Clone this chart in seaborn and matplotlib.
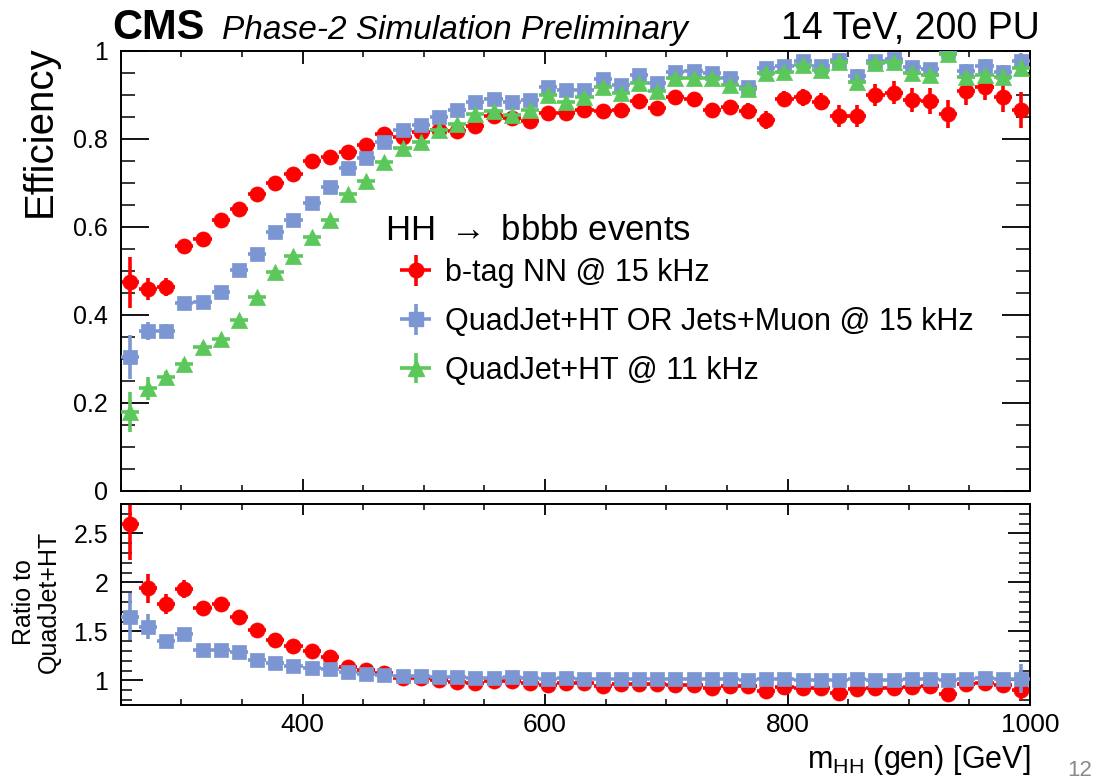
import matplotlib
matplotlib.use("Agg")
import matplotlib.pyplot as plt
import seaborn as sns
import pandas as pd
from matplotlib.lines import Line2D
from matplotlib.ticker import FixedLocator, MultipleLocator, FormatStrFormatter
from matplotlib.legend_handler import HandlerTuple

# ---------------- data ----------------
mhh = [257.5, 272.5, 287.5, 302.5, 317.5, 332.5, 347.5, 362.5, 377.5, 392.5,
       407.5, 422.5, 437.5, 452.5, 467.5, 482.5, 497.5, 512.5, 527.5, 542.5,
       557.5, 572.5, 587.5, 602.5, 617.5, 632.5, 647.5, 662.5, 677.5, 692.5,
       707.5, 722.5, 737.5, 752.5, 767.5, 782.5, 797.5, 812.5, 827.5, 842.5,
       857.5, 872.5, 887.5, 902.5, 917.5, 932.5, 947.5, 962.5, 977.5, 992.5]
half_bin = 7.5

eff_btag = [0.474, 0.459, 0.464, 0.557, 0.572, 0.617, 0.642, 0.674, 0.699, 0.720,
            0.751, 0.760, 0.770, 0.786, 0.811, 0.805, 0.815, 0.820, 0.819, 0.830,
            0.852, 0.847, 0.842, 0.858, 0.858, 0.867, 0.864, 0.867, 0.886, 0.870,
            0.896, 0.892, 0.866, 0.873, 0.864, 0.843, 0.892, 0.895, 0.885, 0.852,
            0.852, 0.900, 0.905, 0.889, 0.887, 0.857, 0.908, 0.919, 0.895, 0.866]
err_btag = [0.057, 0.025, 0.020, 0.012, 0.012, 0.010, 0.010, 0.010, 0.009, 0.009,
            0.009, 0.009, 0.009, 0.009, 0.009, 0.009, 0.009, 0.010, 0.010, 0.010,
            0.010, 0.011, 0.011, 0.011, 0.012, 0.012, 0.012, 0.013, 0.013, 0.014,
            0.014, 0.015, 0.016, 0.016, 0.017, 0.020, 0.018, 0.019, 0.020, 0.025,
            0.025, 0.026, 0.026, 0.027, 0.030, 0.032, 0.030, 0.030, 0.033, 0.040]

eff_or = [0.304, 0.364, 0.364, 0.427, 0.430, 0.453, 0.502, 0.539, 0.588, 0.617,
          0.655, 0.690, 0.733, 0.756, 0.794, 0.821, 0.832, 0.851, 0.866, 0.885,
          0.890, 0.885, 0.889, 0.919, 0.911, 0.911, 0.936, 0.923, 0.945, 0.928,
          0.953, 0.955, 0.949, 0.938, 0.919, 0.961, 0.966, 0.977, 0.966, 0.980,
          0.943, 0.978, 0.981, 0.964, 0.958, 1.000, 0.955, 0.966, 0.953, 0.978]
err_or = [0.050, 0.020, 0.015, 0.010, 0.009, 0.008, 0.008, 0.008, 0.008, 0.008,
          0.008, 0.008, 0.008, 0.008, 0.008, 0.008, 0.008, 0.008, 0.008, 0.008,
          0.008, 0.008, 0.008, 0.008, 0.009, 0.009, 0.009, 0.009, 0.009, 0.010,
          0.010, 0.010, 0.010, 0.011, 0.011, 0.011, 0.012, 0.012, 0.012, 0.013,
          0.017, 0.013, 0.013, 0.014, 0.014, 0.010, 0.015, 0.015, 0.016, 0.018]

eff_quad = [0.180, 0.233, 0.258, 0.288, 0.328, 0.345, 0.389, 0.442, 0.497, 0.533,
            0.578, 0.616, 0.674, 0.705, 0.748, 0.780, 0.794, 0.820, 0.834, 0.857,
            0.864, 0.855, 0.867, 0.900, 0.885, 0.895, 0.919, 0.905, 0.927, 0.908,
            0.938, 0.939, 0.938, 0.923, 0.913, 0.949, 0.953, 0.968, 0.957, 0.976,
            0.930, 0.972, 0.976, 0.949, 0.945, 0.993, 0.940, 0.945, 0.942, 0.961]
err_quad = [0.045, 0.026, 0.015, 0.012, 0.010, 0.009, 0.009, 0.008, 0.008, 0.008,
            0.008, 0.008, 0.008, 0.008, 0.008, 0.008, 0.008, 0.008, 0.008, 0.008,
            0.008, 0.008, 0.008, 0.008, 0.009, 0.009, 0.009, 0.009, 0.009, 0.010,
            0.010, 0.010, 0.010, 0.011, 0.011, 0.011, 0.012, 0.012, 0.012, 0.013,
            0.017, 0.013, 0.013, 0.014, 0.014, 0.010, 0.015, 0.015, 0.016, 0.018]

ratio_btag = [2.60, 1.94, 1.78, 1.93, 1.74, 1.78, 1.65, 1.52, 1.41, 1.35,
              1.30, 1.24, 1.14, 1.11, 1.08, 1.03, 1.03, 1.00, 0.98, 0.97,
              0.99, 0.99, 0.97, 0.95, 0.97, 0.97, 0.94, 0.96, 0.96, 0.96,
              0.955, 0.95, 0.92, 0.946, 0.946, 0.89, 0.936, 0.925, 0.925, 0.873,
              0.916, 0.926, 0.927, 0.937, 0.939, 0.863, 0.966, 0.972, 0.950, 0.901]
rerr_btag = [0.37, 0.15, 0.10, 0.09, 0.05, 0.04, 0.035, 0.03, 0.025, 0.022,
             0.02, 0.018, 0.016, 0.015, 0.014, 0.013, 0.013, 0.013, 0.013, 0.013,
             0.013, 0.014, 0.014, 0.014, 0.015, 0.015, 0.015, 0.016, 0.016, 0.017,
             0.017, 0.018, 0.019, 0.019, 0.02, 0.023, 0.021, 0.022, 0.023, 0.028,
             0.028, 0.029, 0.029, 0.03, 0.033, 0.035, 0.033, 0.033, 0.036, 0.10]

ratio_or = [1.65, 1.55, 1.40, 1.47, 1.31, 1.31, 1.29, 1.21, 1.18, 1.15,
            1.13, 1.12, 1.09, 1.07, 1.06, 1.05, 1.05, 1.04, 1.04, 1.03,
            1.03, 1.035, 1.025, 1.02, 1.03, 1.02, 1.02, 1.02, 1.02, 1.02,
            1.016, 1.017, 1.012, 1.016, 1.007, 1.013, 1.014, 1.009, 1.009, 1.004,
            1.014, 1.006, 1.005, 1.016, 1.014, 1.007, 1.016, 1.022, 1.012, 1.018]
rerr_or = [0.24, 0.13, 0.06, 0.05, 0.03, 0.025, 0.02, 0.018, 0.016, 0.015,
           0.014, 0.013, 0.012, 0.012, 0.011, 0.011, 0.011, 0.011, 0.011, 0.011,
           0.011, 0.011, 0.011, 0.011, 0.012, 0.012, 0.012, 0.012, 0.012, 0.013,
           0.013, 0.013, 0.013, 0.014, 0.014, 0.014, 0.015, 0.015, 0.015, 0.016,
           0.02, 0.016, 0.016, 0.017, 0.017, 0.013, 0.018, 0.018, 0.019, 0.15]

labels = ["b-tag NN @ 15 kHz", "QuadJet+HT OR Jets+Muon @ 15 kHz", "QuadJet+HT @ 11 kHz"]
legend_title = r"HH $\rightarrow$ bbbb events"
colors = ["#ff0000", "#7b96d2", "#5cc85c"]
markers = ["o", "s", "^"]

# ---------------- style ----------------
sns.set_theme(style="ticks")
plt.rcParams["font.family"] = ["Liberation Sans", "DejaVu Sans"]
plt.rcParams["mathtext.fontset"] = "custom"
plt.rcParams["mathtext.rm"] = "Liberation Sans"
plt.rcParams["mathtext.it"] = "Liberation Sans:italic"
plt.rcParams["axes.linewidth"] = 1.4
plt.rcParams["axes.edgecolor"] = "black"
plt.rcParams["text.color"] = "black"
plt.rcParams["xtick.color"] = "black"
plt.rcParams["ytick.color"] = "black"
plt.rcParams["xtick.labelcolor"] = "black"
plt.rcParams["ytick.labelcolor"] = "black"

W, H = 1099, 780
fig = plt.figure(figsize=(W / 100, H / 100), dpi=100)
fig.patch.set_facecolor("white")

def fx(px):
    return px / W

def fy(py):
    return 1 - py / H

ax1 = fig.add_axes([fx(120.7), fy(491), fx(1030) - fx(120.7), fy(51) - fy(491)])
ax2 = fig.add_axes([fx(120.7), fy(705), fx(1030) - fx(120.7), fy(504) - fy(705)])

eff_sets = [(eff_btag, err_btag), (eff_or, err_or), (eff_quad, err_quad)]
msizes = [118, 100, 135]
proxy_ms = [10.5, 9.5, 11]
handles = []
for k, (vals, errs) in enumerate(eff_sets):
    df = pd.DataFrame({"m": mhh, "eff": vals})
    eb = ax1.errorbar(mhh, vals, xerr=half_bin, yerr=errs, fmt="none",
                      ecolor=colors[k], elinewidth=2.6, capsize=0, zorder=2 + k)
    sns.scatterplot(data=df, x="m", y="eff", ax=ax1, marker=markers[k],
                    s=msizes[k], color=colors[k], edgecolor=colors[k],
                    linewidth=0.5, zorder=2.5 + k, legend=False)
    proxy = Line2D([], [], marker=markers[k], linestyle="none", color=colors[k],
                   markersize=proxy_ms[k])
    handles.append((eb, proxy))

ratio_sets = [(ratio_btag, rerr_btag, 0), (ratio_or, rerr_or, 1)]
for vals, errs, k in ratio_sets:
    df = pd.DataFrame({"m": mhh, "r": vals})
    ax2.errorbar(mhh, vals, xerr=half_bin, yerr=errs, fmt="none",
                 ecolor=colors[k], elinewidth=2.6, capsize=0, zorder=2 + k)
    sns.scatterplot(data=df, x="m", y="r", ax=ax2, marker=markers[k],
                    s=msizes[k], color=colors[k], edgecolor=colors[k],
                    linewidth=0.5, zorder=2.5 + k, legend=False)

# ---------------- axes ----------------
for ax in (ax1, ax2):
    ax.set_xlim(250, 1000)
    ax.xaxis.set_major_locator(FixedLocator([400, 600, 800, 1000]))
    ax.xaxis.set_minor_locator(MultipleLocator(50))
    ax.set_xlabel("")
    ax.set_ylabel("")
    for s in ax.spines.values():
        s.set_visible(True)
        s.set_color("black")
        s.set_linewidth(1.4)

ax1.set_ylim(0, 1)
ax1.yaxis.set_major_locator(FixedLocator([0, 0.2, 0.4, 0.6, 0.8, 1.0]))
ax1.yaxis.set_minor_locator(MultipleLocator(0.05))
ax1.yaxis.set_major_formatter(FormatStrFormatter("%g"))
ax1.tick_params(axis="x", which="major", direction="in", length=9, width=1.3,
                top=True, bottom=True, labelbottom=False)
ax1.tick_params(axis="x", which="minor", direction="in", length=4.5, width=1.1,
                top=True, bottom=True)
ax1.tick_params(axis="y", which="major", direction="in", length=20, width=1.3,
                left=True, right=True, labelsize=18, pad=9)
ax1.tick_params(axis="y", which="minor", direction="in", length=10, width=1.1,
                left=True, right=True)

ax2.set_ylim(0.75, 2.8)
ax2.yaxis.set_major_locator(FixedLocator([1, 1.5, 2, 2.5]))
ax2.yaxis.set_minor_locator(MultipleLocator(0.1))
ax2.yaxis.set_major_formatter(FormatStrFormatter("%g"))
ax2.xaxis.set_major_formatter(FormatStrFormatter("%d"))
ax2.tick_params(axis="x", which="major", direction="in", length=8, width=1.3,
                top=True, bottom=True, labelsize=19, pad=6)
ax2.tick_params(axis="x", which="minor", direction="in", length=4, width=1.1,
                top=True, bottom=True)
ax2.tick_params(axis="y", which="major", direction="in", length=16, width=1.3,
                left=True, right=True, labelsize=18, pad=9)
ax2.tick_params(axis="y", which="minor", direction="in", length=8, width=1.1,
                left=True, right=True)

# ---------------- legend ----------------
leg = fig.legend(handles, labels, loc="upper left",
                 bbox_to_anchor=(fx(398), fy(258)), bbox_transform=fig.transFigure,
                 frameon=False, fontsize=22, handlelength=1.15, handletextpad=0.4,
                 labelspacing=0.62, borderpad=0, borderaxespad=0,
                 handler_map={tuple: HandlerTuple(ndivide=1, pad=0)})
fig.text(fx(385), fy(230), legend_title, fontsize=25, va="center", ha="left")

# ---------------- texts ----------------
fig.text(fx(112), fy(39), "CMS", fontsize=30, fontweight="bold", va="baseline")
fig.text(fx(222), fy(39), "Phase-2 Simulation Preliminary", fontsize=24,
         fontstyle="italic", va="baseline")
fig.text(fx(1040), fy(39), "14 TeV, 200 PU", fontsize=27, ha="right", va="baseline")
fig.text(fx(40), fy(45), "Efficiency", fontsize=29, rotation=90, ha="center", va="top")
fig.text(fx(36), fy(602), "Ratio to\nQuadJet+HT", fontsize=18, rotation=90,
         ha="center", va="center", multialignment="center", linespacing=1.05)
fig.text(fx(1030), fy(760), r"m$_{\rm HH}$ (gen) [GeV]", fontsize=22,
         ha="right", va="center")
fig.text(fx(1080), fy(770), "12", fontsize=16, color="#8a8a8a", ha="center", va="center")

fig.savefig("out.png", dpi=100, facecolor="white")
